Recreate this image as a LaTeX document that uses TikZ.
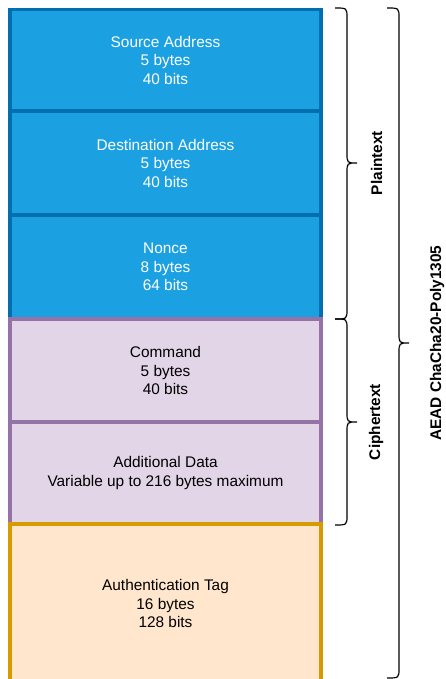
\documentclass[tikz,border=0pt]{standalone}
\usepackage{fontspec}
\setmainfont{Liberation Sans}
\definecolor{bluefill}{HTML}{1BA1E2}
\definecolor{bluestroke}{HTML}{006EAF}
\definecolor{purplefill}{HTML}{E1D5E7}
\definecolor{purplestroke}{HTML}{9673A6}
\definecolor{orangefill}{HTML}{FFE6CC}
\definecolor{orangestroke}{HTML}{D79B00}
\begin{document}
\begin{tikzpicture}[x=1pt,y=-1pt,
  field/.style={draw, line width=3.5pt, minimum width=311pt, anchor=north, inner sep=0pt, outer sep=0pt,
    align=center, font=\fontsize{15.4}{18.5}\selectfont},
  bluebox/.style={field, fill=bluefill, draw=bluestroke, text=white},
  purplebox/.style={field, fill=purplefill, draw=purplestroke, text=black},
  orangebox/.style={field, fill=orangefill, draw=orangestroke, text=black},
  bracepath/.style={draw=black, line width=1.2pt},
  bracelabel/.style={rotate=90, anchor=base, font=\bfseries\fontsize{15.4}{18.5}\selectfont}]
\useasboundingbox (0,0) rectangle (445,679);

\node[bluebox, minimum height=101.5pt] (src) at (165.5,9.5) {Source Address\\5 bytes\\40 bits};
\node[bluebox, minimum height=104pt] (dst) at (165.5,111) {Destination Address\\5 bytes\\40 bits};
\node[bluebox, minimum height=104pt] (nonce) at (165.5,215) {Nonce\\8 bytes\\64 bits};
\node[purplebox, minimum height=103pt] (cmd) at (165.5,319) {Command\\5 bytes\\40 bits};
\node[purplebox, minimum height=102pt] (data) at (165.5,422) {Additional Data\\Variable up to 216 bytes maximum};
\node[orangebox, minimum height=159pt] (tag) at (165.5,524) {Authentication Tag\\16 bytes\\128 bits};

% Plaintext brace
\path[bracepath] (335,8) .. controls (347,8) .. (347,18) -- (347,153)
  .. controls (347,163) .. (357,163) .. controls (347,163) .. (347,173)
  -- (347,309) .. controls (347,319) .. (335,319);
% Ciphertext brace
\path[bracepath] (335,319) .. controls (347,319) .. (347,329) -- (347,412)
  .. controls (347,422) .. (357,422) .. controls (347,422) .. (347,432)
  -- (347,515) .. controls (347,525) .. (335,525);
% AEAD brace
\path[bracepath] (387,8) .. controls (399,8) .. (399,18) -- (399,333)
  .. controls (399,343) .. (409,343) .. controls (399,343) .. (399,353)
  -- (399,668) .. controls (399,678) .. (387,678);

\node[bracelabel] (plain) at (382,163) {Plaintext};
\node[bracelabel] (cipher) at (380,422) {Ciphertext};
\node[bracelabel] (aead) at (441,343) {AEAD ChaCha20-Poly1305};
\end{tikzpicture}
\end{document}
